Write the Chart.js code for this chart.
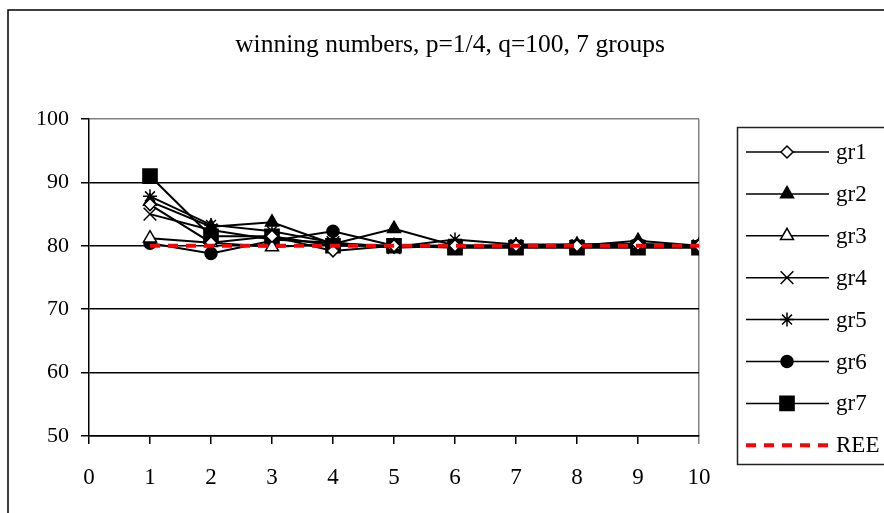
<!DOCTYPE html>
<html>
<head>
<meta charset="utf-8">
<script src="https://cdn.jsdelivr.net/npm/chart.js@4/dist/chart.umd.min.js"></script>
<style>
  html, body { margin: 0; padding: 0; background: #fff; }
  #wrap { width: 884px; height: 513px; }
</style>
</head>
<body>
<div id="wrap"><canvas id="c" width="884" height="513"></canvas></div>
<script>
// Winning numbers per round for seven groups, with the REE benchmark.
const titleText = 'winning numbers, p=1/4, q=100, 7 groups';
const rounds = [1, 2, 3, 4, 5, 6, 7, 8, 9, 10];
const gr1 = [86.5, 80.5, 81.5, 79.2, 80.0, 80.0, 80.0, 80.0, 80.2, 80.0];
const gr2 = [87.0, 83.0, 83.7, 80.3, 82.7, 80.0, 80.0, 80.0, 80.8, 80.0];
const gr3 = [81.2, 80.5, 79.8, 80.3, 80.0, 80.0, 80.0, 80.2, 80.2, 80.0];
const gr4 = [85.0, 82.5, 81.0, 80.5, 79.7, 80.0, 80.0, 80.0, 80.0, 80.0];
const gr5 = [87.8, 83.3, 82.3, 80.5, 79.8, 81.0, 80.2, 80.2, 80.3, 80.0];
const gr6 = [80.4, 78.8, 80.8, 82.3, 80.0, 79.8, 80.0, 80.0, 80.0, 80.0];
const gr7 = [91.0, 81.5, 81.5, 80.0, 80.0, 79.7, 79.7, 79.7, 79.7, 79.7];
const ree = [80, 80, 80, 80, 80, 80, 80, 80, 80, 80];
const seriesNames = ['gr1', 'gr2', 'gr3', 'gr4', 'gr5', 'gr6', 'gr7', 'REE'];
const xTicks = [0, 1, 2, 3, 4, 5, 6, 7, 8, 9, 10];
const yTicks = [50, 60, 70, 80, 90, 100];

const FONT = '"Liberation Serif", "Times New Roman", serif';

// marker look for each group
const markers = [
  { pointStyle: 'rectRot',  radius: 6,   fill: '#fff' },
  { pointStyle: 'triangle', radius: 7.5, fill: '#000' },
  { pointStyle: 'triangle', radius: 7.5, fill: '#fff' },
  { pointStyle: 'crossRot', radius: 9,   fill: '#000' },
  { pointStyle: 'star',     radius: 7,   fill: '#000' },
  { pointStyle: 'circle',   radius: 6,   fill: '#000' },
  { pointStyle: 'rect',     radius: 10,  fill: '#000' }
];

const groupValues = [gr1, gr2, gr3, gr4, gr5, gr6, gr7];
const toPoints = vals => vals.map((v, i) => ({ x: rounds[i], y: v }));

const datasets = groupValues.map((vals, i) => ({
  label: seriesNames[i],
  data: toPoints(vals),
  borderColor: '#000',
  borderWidth: 2,
  pointStyle: markers[i].pointStyle,
  pointRadius: markers[i].radius,
  pointBackgroundColor: markers[i].fill,
  pointBorderColor: '#000',
  pointBorderWidth: 1.5,
  tension: 0,
  order: 1
}));
datasets.push({
  label: seriesNames[7],
  data: toPoints(ree),
  borderColor: '#ff0000',
  borderWidth: 4,
  borderDash: [10, 8],
  pointRadius: 0,
  tension: 0,
  order: 0
});

// title, outer frame and the boxed legend
const decorations = {
  id: 'decorations',
  afterDraw(chart) {
    const ctx = chart.ctx;
    ctx.save();
    ctx.strokeStyle = '#000';
    ctx.lineWidth = 1.5;
    ctx.strokeRect(8, 10, 900, 600);

    ctx.fillStyle = '#000';
    ctx.font = '25.5px ' + FONT;
    ctx.textAlign = 'center';
    ctx.textBaseline = 'middle';
    ctx.fillText(titleText, 450, 45);

    // legend box
    ctx.lineWidth = 1.5;
    ctx.strokeStyle = '#222';
    ctx.strokeRect(737.5, 127.5, 200, 337);

    const x0 = 746, x1 = 829, xm = 787, xt = 836;
    const y0 = 152, dy = 41.9;
    ctx.font = '23px ' + FONT;
    ctx.textAlign = 'left';
    ctx.textBaseline = 'middle';
    seriesNames.forEach((name, i) => {
      const y = y0 + i * dy;
      ctx.save();
      if (i < 7) {
        ctx.strokeStyle = '#000';
        ctx.lineWidth = 1.5;
        ctx.setLineDash([]);
      } else {
        ctx.strokeStyle = '#ff0000';
        ctx.lineWidth = 4;
        ctx.setLineDash([10, 8]);
      }
      ctx.beginPath();
      ctx.moveTo(x0, y);
      ctx.lineTo(x1, y);
      ctx.stroke();
      ctx.restore();
      if (i < 7) {
        ctx.save();
        ctx.fillStyle = markers[i].fill;
        ctx.strokeStyle = '#000';
        ctx.lineWidth = 1.5;
        Chart.helpers.drawPoint(ctx, {
          pointStyle: markers[i].pointStyle,
          radius: markers[i].radius,
          borderWidth: 1.5,
          rotation: 0
        }, xm, y);
        ctx.restore();
      }
      ctx.fillStyle = '#000';
      ctx.fillText(name, xt, y + 1);
    });
    ctx.restore();
  }
};

new Chart(document.getElementById('c'), {
  type: 'line',
  data: { datasets },
  options: {
    responsive: false,
    animation: false,
    devicePixelRatio: 1,
    layout: { padding: { left: 0, top: 119, right: 185, bottom: 0 } },
    plugins: {
      legend: { display: false },
      title: { display: false },
      tooltip: { enabled: false }
    },
    scales: {
      x: {
        type: 'linear',
        min: xTicks[0],
        max: xTicks[xTicks.length - 1],
        afterBuildTicks: s => { s.ticks = xTicks.map(v => ({ value: v })); },
        afterFit: s => { s.height = 77; },
        grid: {
          color: c => (c.tick && c.tick.value === 10) ? '#808080' : 'rgba(0,0,0,0)',
          tickColor: c => (c.tick && c.tick.value === 10) ? '#808080' : '#000',
          tickLength: 8,
          lineWidth: 1.5
        },
        border: { display: true, color: '#000', width: 1.5 },
        ticks: {
          color: '#000',
          font: { family: FONT, size: 23 },
          padding: 20,
          maxRotation: 0,
          autoSkip: false
        }
      },
      y: {
        min: yTicks[0],
        max: yTicks[yTicks.length - 1],
        afterBuildTicks: s => { s.ticks = yTicks.map(v => ({ value: v })); },
        afterFit: s => { s.width = 89; },
        grid: {
          color: c => (c.tick && c.tick.value === 100) ? '#808080' : '#000',
          tickColor: '#000',
          tickLength: 8,
          lineWidth: 1.5
        },
        border: { display: true, color: '#000', width: 1.5 },
        ticks: {
          color: '#000',
          font: { family: FONT, size: 22 },
          padding: 12
        }
      }
    }
  },
  plugins: [decorations]
});
</script>
</body>
</html>
